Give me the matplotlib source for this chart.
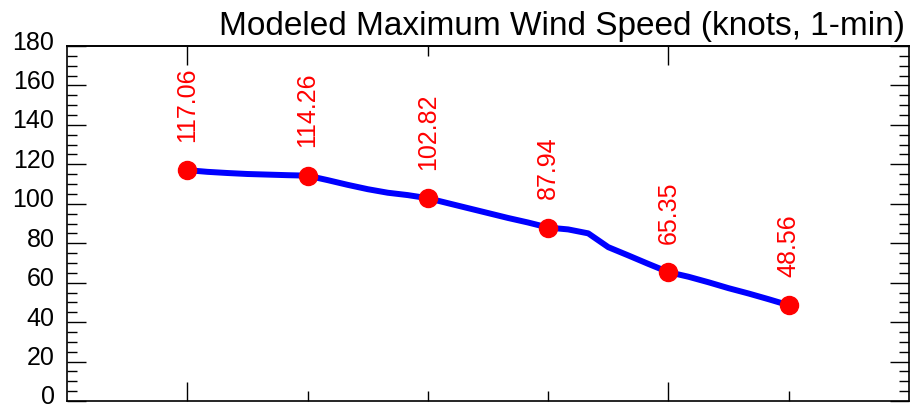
import numpy as np
from matplotlib import pyplot as plt
from matplotlib.ticker import MultipleLocator, FixedLocator
import matplotlib.transforms as mtransforms

# 6-hourly labelled points
point_x = [0, 1, 2, 3, 4, 5]
point_vals = [117.06, 114.26, 102.82, 87.94, 65.35, 48.56]

# hourly track of the modeled wind
track_vals = [
    117.06, 116.2, 115.6, 115.1, 114.8, 114.5,
    114.26, 112.0, 109.6, 107.4, 105.6, 104.4,
    102.82, 100.3, 97.8, 95.3, 92.8, 90.5,
    87.94, 87.0, 85.0, 78.0, 73.8, 69.5,
    65.35, 63.0, 60.2, 57.2, 54.5, 51.6,
    48.56,
]
track_x = np.arange(len(track_vals)) / 6.0

title = "Modeled Maximum Wind Speed (knots, 1-min)"

plt.rcParams['font.family'] = ['Liberation Sans', 'DejaVu Sans']

fig = plt.figure(figsize=(9.11, 4.06), dpi=100)
ax = fig.add_axes([67 / 911, 4 / 406, 842 / 911, 355 / 406])

ax.plot(track_x, track_vals, color="#0000ff", lw=4.3, solid_capstyle="round",
        solid_joinstyle="round", zorder=2)
ax.plot(point_x, point_vals, "o", color="#ff0000", ms=13, zorder=3)

for x, v in zip(point_x, point_vals):
    ax.text(x, v + 15, f"{v:.2f}", rotation=90, ha="center", va="bottom",
            color="#ff0000", fontsize=18)

ax.set_xlim(-1, 6)
ax.set_ylim(0, 180)

ax.yaxis.set_major_locator(MultipleLocator(20))
ax.yaxis.set_minor_locator(MultipleLocator(5))
ax.xaxis.set_major_locator(FixedLocator([0, 4]))
ax.xaxis.set_minor_locator(FixedLocator([1, 2, 3, 5]))
ax.set_xticklabels([])

ax.tick_params(axis="both", which="major", direction="in", length=14, width=1, labelsize=18, pad=9)
ax.tick_params(axis="both", which="minor", direction="in", length=7, width=1)
ax.tick_params(axis="y", which="both", right=True)

# labels sit a little above their ticks in the original
shift = mtransforms.ScaledTranslation(0, 7 / 100, fig.dpi_scale_trans)
for lab in ax.get_yticklabels():
    lab.set_transform(lab.get_transform() + shift)

top = ax.secondary_xaxis("top")
top.xaxis.set_major_locator(FixedLocator([0, 4]))
top.xaxis.set_minor_locator(FixedLocator([2]))
top.set_xticklabels([])
top.tick_params(which="major", direction="in", length=14, width=1)
top.tick_params(which="minor", direction="in", length=7, width=1)

for s in ax.spines.values():
    s.set_linewidth(1.2)
top.spines["top"].set_linewidth(1.2)

fig.text(905 / 911, 1 - 35 / 406, title, ha="right", va="baseline", fontsize=24)

fig.savefig("out.png", dpi=100)
